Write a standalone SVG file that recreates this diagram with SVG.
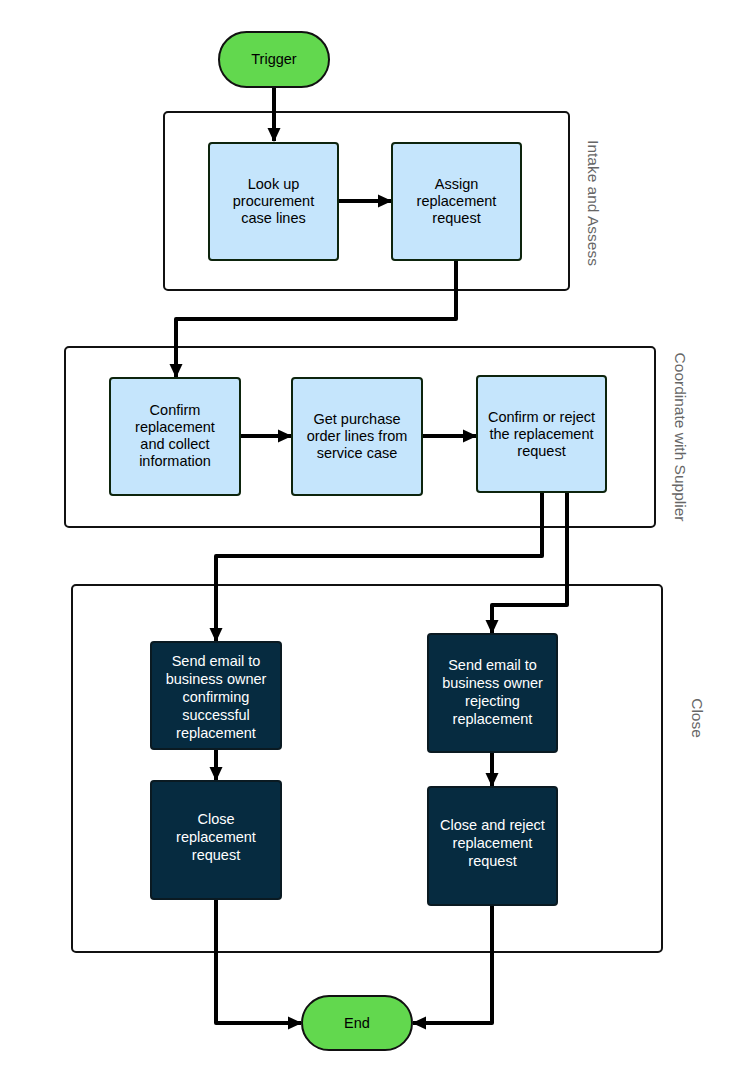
<svg xmlns="http://www.w3.org/2000/svg" width="750" height="1091" viewBox="0 0 750 1091">
<style>
.lane{fill:#ffffff;stroke:#111;stroke-width:2}
.lanelbl{font-family:"Liberation Sans",Arial,sans-serif;font-size:15.5px;fill:#666}
.lt{fill:#c5e5fc;stroke:#0d240d;stroke-width:2}
.dk{fill:#062b40;stroke:#0a1a22;stroke-width:2}
.term{fill:#62d84e;stroke:#111;stroke-width:2}
.t{font-family:"Liberation Sans",Arial,sans-serif;font-size:14.5px;text-anchor:middle;fill:#000}
.tw{font-family:"Liberation Sans",Arial,sans-serif;font-size:14.5px;text-anchor:middle;fill:#fff}
.c{fill:none;stroke:#000;stroke-width:4;stroke-linejoin:round}
</style>
<defs>
<marker id="ah" markerWidth="14" markerHeight="14" viewBox="0 0 14 14" refX="13" refY="7" orient="auto" markerUnits="userSpaceOnUse">
<path d="M0,0.5 L14,7 L0,13.5 Z" fill="#000"/>
</marker>
</defs>
<rect width="750" height="1091" fill="#fff"/>
<g id="lane-intake">
<rect class="lane" x="164" y="112" width="405" height="178" rx="4"/>
<text class="lanelbl" transform="translate(588,203) rotate(90)" text-anchor="middle">Intake and Assess</text>
</g>
<g id="lane-coord">
<rect class="lane" x="65" y="347" width="590" height="180" rx="4"/>
<text class="lanelbl" transform="translate(675,437) rotate(90)" text-anchor="middle">Coordinate with Supplier</text>
</g>
<g id="lane-close">
<rect class="lane" x="72" y="585" width="590" height="367" rx="4"/>
<text class="lanelbl" transform="translate(692,718) rotate(90)" text-anchor="middle">Close</text>
</g>
<g id="connectors">
<path class="c" d="M274,87 L274,141" marker-end="url(#ah)"/>
<path class="c" d="M338,201 L391,201" marker-end="url(#ah)"/>
<path class="c" d="M456,260 L456,319 L176,319 L176,377" marker-end="url(#ah)"/>
<path class="c" d="M240,436 L291,436" marker-end="url(#ah)"/>
<path class="c" d="M422,436 L476,436" marker-end="url(#ah)"/>
<path class="c" d="M542,492 L542,556 L216,556 L216,641" marker-end="url(#ah)"/>
<path class="c" d="M567,492 L567,605 L492,605 L492,633" marker-end="url(#ah)"/>
<path class="c" d="M216,749 L216,780" marker-end="url(#ah)"/>
<path class="c" d="M492,752 L492,786" marker-end="url(#ah)"/>
<path class="c" d="M216,899 L216,1023 L301,1023" marker-end="url(#ah)"/>
<path class="c" d="M492,905 L492,1023 L413,1023" marker-end="url(#ah)"/>
</g>
<g id="trigger">
<rect class="term" x="219" y="32" width="110" height="55" rx="27.5"/>
<text class="t" x="274" y="64">Trigger</text>
</g>
<g id="lookup">
<rect class="lt" x="209" y="143" width="129" height="117" rx="3"/>
<text class="t" x="273.5" y="189">Look up</text>
<text class="t" x="273.5" y="206">procurement</text>
<text class="t" x="273.5" y="223">case lines</text>
</g>
<g id="assign">
<rect class="lt" x="392" y="143" width="129" height="117" rx="3"/>
<text class="t" x="456.5" y="189">Assign</text>
<text class="t" x="456.5" y="206">replacement</text>
<text class="t" x="456.5" y="223">request</text>
</g>
<g id="confirm">
<rect class="lt" x="110" y="378" width="130" height="117" rx="3"/>
<text class="t" x="175" y="415">Confirm</text>
<text class="t" x="175" y="432">replacement</text>
<text class="t" x="175" y="449">and collect</text>
<text class="t" x="175" y="466">information</text>
</g>
<g id="getpo">
<rect class="lt" x="292" y="378" width="130" height="117" rx="3"/>
<text class="t" x="357" y="424">Get purchase</text>
<text class="t" x="357" y="441">order lines from</text>
<text class="t" x="357" y="458">service case</text>
</g>
<g id="confirmreject">
<rect class="lt" x="477" y="376" width="129" height="116" rx="3"/>
<text class="t" x="541.5" y="422">Confirm or reject</text>
<text class="t" x="541.5" y="439">the replacement</text>
<text class="t" x="541.5" y="456">request</text>
</g>
<g id="email-ok">
<rect class="dk" x="151" y="642" width="130" height="107" rx="3"/>
<text class="tw" x="216" y="666">Send email to</text>
<text class="tw" x="216" y="684">business owner</text>
<text class="tw" x="216" y="702">confirming</text>
<text class="tw" x="216" y="720">successful</text>
<text class="tw" x="216" y="738">replacement</text>
</g>
<g id="close-ok">
<rect class="dk" x="151" y="781" width="130" height="118" rx="3"/>
<text class="tw" x="216" y="824">Close</text>
<text class="tw" x="216" y="842">replacement</text>
<text class="tw" x="216" y="860">request</text>
</g>
<g id="email-reject">
<rect class="dk" x="428" y="634" width="129" height="118" rx="3"/>
<text class="tw" x="492.5" y="670">Send email to</text>
<text class="tw" x="492.5" y="688">business owner</text>
<text class="tw" x="492.5" y="706">rejecting</text>
<text class="tw" x="492.5" y="724">replacement</text>
</g>
<g id="close-reject">
<rect class="dk" x="428" y="787" width="129" height="118" rx="3"/>
<text class="tw" x="492.5" y="830">Close and reject</text>
<text class="tw" x="492.5" y="848">replacement</text>
<text class="tw" x="492.5" y="866">request</text>
</g>
<g id="end">
<rect class="term" x="302" y="996" width="110" height="54" rx="27"/>
<text class="t" x="357" y="1028">End</text>
</g>
</svg>
